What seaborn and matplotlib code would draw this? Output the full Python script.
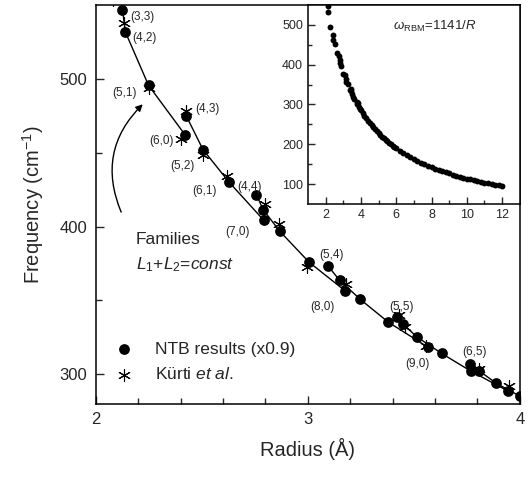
import numpy as np
import matplotlib.pyplot as plt
import pandas as pd
import seaborn as sns

sns.set_style("ticks")
plt.rcParams['font.family'] = ['Liberation Sans', 'DejaVu Sans']
plt.rcParams['mathtext.fontset'] = 'custom'
plt.rcParams['mathtext.rm'] = 'Liberation Sans'
plt.rcParams['mathtext.it'] = 'Liberation Sans:italic'
plt.rcParams['xtick.direction'] = 'in'
plt.rcParams['ytick.direction'] = 'in'
plt.rcParams['axes.linewidth'] = 1.1
plt.rcParams['axes.edgecolor'] = 'black'

# NTB results (x0.9), grouped by family L1+L2
chirality = ['(3,3)', '(4,2)', '(5,1)', '(6,0)',
             '(4,3)', '(5,2)', '(6,1)', '(7,0)',
             '(4,4)', '(5,3)', '(6,2)', '(7,1)', '(8,0)',
             '(5,4)', '(6,3)', '(7,2)', '(8,1)', '(9,0)',
             '(5,5)', '(6,4)', '(7,3)', '(8,2)', '(9,1)', '(10,0)',
             '(6,5)', '(7,4)', '(8,3)', '(9,2)']
family = [6] * 4 + [7] * 4 + [8] * 5 + [9] * 5 + [10] * 6 + [11] * 4
ntb_radius = [2.126, 2.140, 2.249, 2.423,
              2.428, 2.506, 2.629, 2.792,
              2.758, 2.789, 2.868, 3.006, 3.178,
              3.096, 3.151, 3.248, 3.379, 3.565,
              3.423, 3.450, 3.516, 3.631, 3.769, 3.945,
              3.764, 3.807, 3.890, 4.000]
ntb_freq = [546.6, 531.5, 495.5, 461.7,
            474.5, 452.0, 430.0, 404.3,
            421.6, 411.5, 396.8, 375.9, 356.3,
            373.2, 363.5, 350.7, 335.4, 318.5,
            338.7, 333.8, 325.2, 314.2, 302.2, 288.7,
            307.2, 302.5, 293.9, 285.3]

# Kurti et al.
kurti_radius = [2.08, 2.135, 2.249, 2.428, 2.404, 2.506, 2.617, 2.800,
                2.865, 2.997, 3.180, 3.430, 3.460, 3.560, 3.807, 3.950]
kurti_freq = [553.0, 538.0, 494.0, 478.0, 459.0, 448.6, 434.0, 415.0,
              401.4, 372.8, 360.8, 340.0, 332.0, 319.0, 303.4, 292.0]

# labelled tubes
label_text = ['(3,3)', '(4,2)', '(5,1)', '(4,3)', '(6,0)', '(5,2)', '(6,1)',
              '(4,4)', '(7,0)', '(5,4)', '(8,0)', '(5,5)', '(9,0)', '(6,5)']
label_r = [2.22, 2.23, 2.137, 2.528, 2.311, 2.410, 2.514,
           2.726, 2.670, 3.113, 3.071, 3.443, 3.519, 3.788]
label_f = [542.0, 527.8, 490.5, 479.7, 458.1, 441.2, 424.3,
           426.4, 396.0, 380.4, 345.3, 345.3, 306.8, 314.9]

# inset: w_RBM = 1141/R over a wide radius range
inset_radius = ntb_radius + [
    4.1, 4.2, 4.3, 4.4, 4.5, 4.6, 4.7, 4.8, 4.9, 5.0, 5.1, 5.2, 5.3, 5.4,
    5.5, 5.6, 5.7, 5.8, 5.9, 6.0, 6.2, 6.4, 6.6, 6.8, 7.0, 7.2, 7.4, 7.6,
    7.8, 8.0, 8.2, 8.4, 8.6, 8.8, 9.0, 9.2, 9.4, 9.6, 9.8, 10.0, 10.2,
    10.4, 10.6, 10.8, 11.0, 11.2, 11.4, 11.6, 11.8, 12.0]
inset_freq = ntb_freq + [
    278.3, 271.7, 265.3, 259.3, 253.6, 248.0, 242.8, 237.7, 232.9, 228.2,
    223.7, 219.4, 215.3, 211.3, 207.5, 203.8, 200.2, 196.7, 193.4, 190.2,
    184.0, 178.3, 172.9, 167.8, 163.0, 158.5, 154.2, 150.1, 146.3, 142.6,
    139.1, 135.8, 132.7, 129.7, 126.8, 124.0, 121.4, 118.9, 116.4, 114.1,
    111.9, 109.7, 107.6, 105.6, 103.7, 101.9, 100.1, 98.4, 96.7, 95.1]

ntb = pd.DataFrame({'radius': ntb_radius, 'freq': ntb_freq, 'family': family})
kurti = pd.DataFrame({'radius': kurti_radius, 'freq': kurti_freq})
inset = pd.DataFrame({'radius': inset_radius, 'freq': inset_freq})

fig = plt.figure(figsize=(5.32, 4.78), dpi=100)
ax = fig.add_axes([0.180, 0.155, 0.797, 0.835])

sns.lineplot(data=ntb, x='radius', y='freq', units='family', estimator=None,
             sort=False, color='black', lw=1.0, ax=ax)
sns.scatterplot(data=ntb, x='radius', y='freq', color='black', s=60,
                edgecolor='black', linewidth=0, ax=ax, label='NTB results (x0.9)', zorder=3)
sns.scatterplot(data=kurti, x='radius', y='freq', color='black', s=75,
                marker=(6, 2, 0), linewidth=0.8, ax=ax, label=u'K\u00fcrti $et\\ al.$', zorder=4)

for t, r, f in zip(label_text, label_r, label_f):
    ax.text(r, f, t, fontsize=8.5, ha='center', va='center')

ax.text(2.19, 391, 'Families', fontsize=12.5, ha='left', va='center')
ax.text(2.19, 374, r'$L_1$+$L_2$=$const$', fontsize=12.5, ha='left', va='center')
ax.annotate('', xy=(2.231, 484), xytext=(2.125, 408),
            arrowprops=dict(arrowstyle='-|>', connectionstyle='arc3,rad=-0.35',
                            color='black', lw=1.0, mutation_scale=10))

ax.set_xlim(2, 4)
ax.set_ylim(280, 550)
ax.set_xticks([2, 3, 4])
ax.set_xticks(np.arange(2, 4.01, 0.2), minor=True)
ax.set_yticks([300, 400, 500])
ax.set_yticks([350, 450], minor=True)
ax.tick_params(which='major', length=6, width=1, labelsize=12, pad=6)
ax.tick_params(which='minor', length=4, width=1)
ax.set_xlabel(u'Radius (\u00c5)', fontsize=14.5, labelpad=8)
ax.set_ylabel(r'Frequency (cm$^{-1}$)', fontsize=14.5, labelpad=10)

leg = ax.legend(loc='lower left', bbox_to_anchor=(0.0, 0.015), frameon=False,
                fontsize=12.5, handlelength=1.5, handletextpad=1.0,
                labelspacing=0.55)

# inset
axi = fig.add_axes([0.579, 0.573, 0.398, 0.417])
sns.scatterplot(data=inset, x='radius', y='freq', color='black', s=18,
                linewidth=0, ax=axi)
axi.set_xlim(1, 13)
axi.set_ylim(50, 550)
axi.set_xticks([2, 4, 6, 8, 10, 12])
axi.set_xticks([3, 5, 7, 9, 11], minor=True)
axi.set_yticks([100, 200, 300, 400, 500])
axi.set_yticks([150, 250, 350, 450], minor=True)
axi.tick_params(which='major', length=5, width=1, labelsize=9)
axi.tick_params(which='minor', length=3, width=1)
axi.set_xlabel('')
axi.set_ylabel('')
axi.text(0.40, 0.89, r'$\omega_{\rm RBM}$=1141/$R$', transform=axi.transAxes,
         fontsize=9.5, ha='left', va='center')

plt.savefig('out.png', dpi=100)
